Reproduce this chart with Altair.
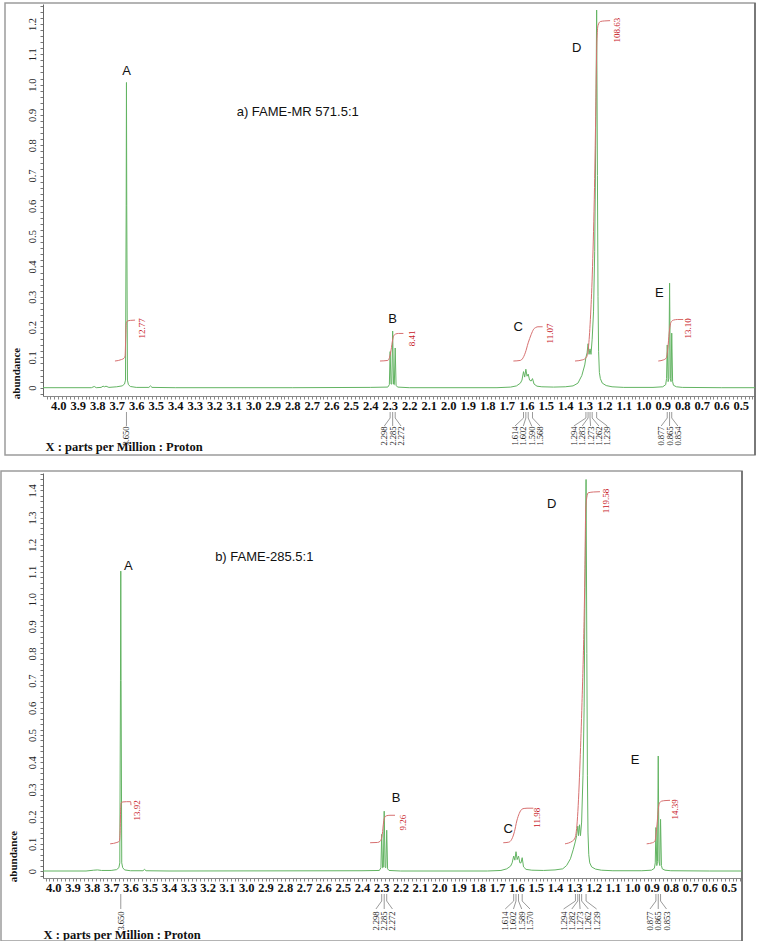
import altair as alt
import numpy as np
import pandas as pd

# ---------------- data ----------------
# spectrum a) (ppm, abundance)
a_spectrum = [
    (4.078, 0.0), (3.83, 0.0), (3.815, 0.004), (3.805, 0.0), (3.78, 0.001), (3.77, 0.005),
    (3.762, 0.003), (3.755, 0.005), (3.74, 0.001), (3.70, 0.003), (3.672, 0.006), (3.660, 0.012),
    (3.655, 0.025), (3.6515, 0.6), (3.650, 1.007), (3.6485, 0.6), (3.645, 0.025), (3.640, 0.01),
    (3.63, 0.004), (3.60, 0.001), (3.535, 0.001), (3.527, 0.006), (3.519, 0.001), (3.40, 0.0),
    (2.80, 0.0), (2.40, 0.001), (2.31, 0.002), (2.302, 0.01), (2.298, 0.119), (2.2935, 0.012),
    (2.2895, 0.012), (2.285, 0.187), (2.2805, 0.012), (2.2765, 0.01), (2.272, 0.131), (2.2675, 0.008),
    (2.26, 0.002), (2.20, 0.0), (1.75, 0.0), (1.68, 0.002), (1.65, 0.006), (1.63, 0.015),
    (1.622, 0.025), (1.614, 0.053), (1.608, 0.035), (1.602, 0.061), (1.596, 0.038), (1.590, 0.045),
    (1.583, 0.025), (1.575, 0.022), (1.568, 0.03), (1.560, 0.012), (1.545, 0.005), (1.52, 0.003),
    (1.46, 0.002), (1.40, 0.003), (1.36, 0.006), (1.335, 0.015), (1.315, 0.04), (1.30, 0.075),
    (1.294, 0.1), (1.288, 0.115), (1.283, 0.145), (1.278, 0.11), (1.273, 0.128), (1.268, 0.11),
    (1.262, 0.16), (1.255, 0.25), (1.249, 0.45), (1.244, 0.8), (1.239, 1.246), (1.235, 0.7),
    (1.232, 0.3), (1.229, 0.12), (1.225, 0.05), (1.22, 0.03), (1.21, 0.015), (1.19, 0.007),
    (1.16, 0.003), (1.10, 0.001), (0.95, 0.001), (0.90, 0.003), (0.885, 0.01), (0.8805, 0.03),
    (0.877, 0.141), (0.8725, 0.02), (0.869, 0.03), (0.865, 0.345), (0.861, 0.03), (0.8575, 0.02),
    (0.854, 0.18), (0.8495, 0.02), (0.845, 0.008), (0.83, 0.003), (0.80, 0.001), (0.60, 0.0),
    (0.427, 0.0),
]
# spectrum b)
b_spectrum = [
    (4.053, 0.0), (3.83, 0.0), (3.79, 0.003), (3.77, 0.004), (3.75, 0.002), (3.70, 0.002),
    (3.672, 0.005), (3.660, 0.012), (3.655, 0.03), (3.6515, 0.7), (3.650, 1.103), (3.6485, 0.7),
    (3.645, 0.03), (3.640, 0.012), (3.63, 0.004), (3.60, 0.001), (3.535, 0.001), (3.527, 0.006),
    (3.519, 0.001), (3.40, 0.0), (2.40, 0.001), (2.31, 0.002), (2.302, 0.012), (2.298, 0.135),
    (2.2935, 0.012), (2.2895, 0.014), (2.285, 0.22), (2.2805, 0.014), (2.2765, 0.012), (2.272, 0.15),
    (2.2675, 0.008), (2.26, 0.002), (2.20, 0.0), (1.75, 0.0), (1.68, 0.002), (1.65, 0.008),
    (1.63, 0.018), (1.622, 0.03), (1.614, 0.055), (1.608, 0.04), (1.602, 0.071), (1.596, 0.042),
    (1.589, 0.055), (1.582, 0.03), (1.576, 0.03), (1.570, 0.049), (1.563, 0.015), (1.55, 0.006),
    (1.52, 0.003), (1.46, 0.002), (1.40, 0.004), (1.36, 0.008), (1.34, 0.02), (1.32, 0.045),
    (1.305, 0.08), (1.294, 0.11), (1.288, 0.13), (1.282, 0.165), (1.278, 0.13), (1.273, 0.17),
    (1.268, 0.13), (1.262, 0.18), (1.255, 0.35), (1.249, 0.6), (1.245, 1.0), (1.239, 1.44),
    (1.235, 0.8), (1.232, 0.35), (1.229, 0.14), (1.225, 0.06), (1.22, 0.03), (1.21, 0.015),
    (1.19, 0.007), (1.16, 0.003), (1.10, 0.001), (0.95, 0.001), (0.90, 0.003), (0.885, 0.01),
    (0.8805, 0.03), (0.877, 0.16), (0.8725, 0.02), (0.869, 0.035), (0.865, 0.423), (0.861, 0.035),
    (0.857, 0.02), (0.853, 0.19), (0.8485, 0.02), (0.844, 0.008), (0.83, 0.003), (0.80, 0.001),
    (0.60, 0.0), (0.431, 0.0),
]

# picked peak positions (labels under the axis)
a_peaks = [[3.650], [2.298, 2.285, 2.272], [1.614, 1.602, 1.590, 1.568],
           [1.294, 1.283, 1.273, 1.262, 1.239], [0.877, 0.865, 0.854]]
b_peaks = [[3.650], [2.298, 2.285, 2.272], [1.614, 1.602, 1.589, 1.570],
           [1.294, 1.282, 1.273, 1.262, 1.239], [0.877, 0.865, 0.853]]

# integration curves (ppm list, abundance list)
a_int_A = ([3.709, 3.675, 3.663, 3.657, 3.654, 3.651, 3.645, 3.630, 3.606],
           [0.088, 0.093, 0.097, 0.105, 0.16, 0.212, 0.220, 0.222, 0.223])
a_int_B = ([2.350, 2.310, 2.301, 2.293, 2.285, 2.279, 2.270, 2.255, 2.230],
           [0.088, 0.090, 0.100, 0.125, 0.158, 0.172, 0.177, 0.179, 0.179])
a_int_C = ([1.666, 1.630, 1.620, 1.605, 1.590, 1.575, 1.562, 1.550, 1.540, 1.516],
           [0.088, 0.090, 0.095, 0.115, 0.148, 0.175, 0.193, 0.199, 0.201, 0.201])
a_int_D = ([1.350, 1.310, 1.290, 1.280, 1.270, 1.260, 1.250, 1.243, 1.238, 1.232, 1.220, 1.200, 1.170],
           [0.088, 0.092, 0.102, 0.140, 0.240, 0.400, 0.660, 0.930, 1.140, 1.195, 1.208, 1.210, 1.211])
a_int_E = ([0.923, 0.895, 0.882, 0.874, 0.867, 0.860, 0.853, 0.845, 0.825, 0.795],
           [0.088, 0.092, 0.098, 0.130, 0.180, 0.212, 0.220, 0.223, 0.225, 0.225])
b_int_A = ([3.705, 3.670, 3.657, 3.653, 3.651, 3.648, 3.640, 3.620, 3.599, 3.597],
           [0.100, 0.105, 0.110, 0.16, 0.22, 0.250, 0.254, 0.255, 0.255, 0.242])
b_int_B = ([2.358, 2.320, 2.305, 2.295, 2.288, 2.282, 2.274, 2.255, 2.229],
           [0.104, 0.105, 0.110, 0.135, 0.180, 0.198, 0.203, 0.205, 0.205])
b_int_C = ([1.668, 1.640, 1.624, 1.610, 1.598, 1.585, 1.572, 1.560, 1.545, 1.512],
           [0.104, 0.106, 0.117, 0.145, 0.184, 0.212, 0.227, 0.230, 0.231, 0.231])
b_int_D = ([1.348, 1.310, 1.296, 1.283, 1.270, 1.260, 1.250, 1.245, 1.241, 1.235, 1.228, 1.200, 1.167],
           [0.100, 0.110, 0.122, 0.200, 0.405, 0.620, 0.895, 1.10, 1.324, 1.375, 1.391, 1.394, 1.395])
b_int_E = ([0.925, 0.895, 0.882, 0.873, 0.861, 0.853, 0.847, 0.830, 0.804],
           [0.100, 0.104, 0.110, 0.159, 0.245, 0.255, 0.257, 0.259, 0.260])

# integral values
a_int_values = ["12.77", "8.41", "11.07", "108.63", "13.10"]
a_int_lab_ppm = [3.572, 2.187, 1.478, 1.136, 0.769]
a_int_lab_ab = [0.196, 0.163, 0.179, 1.180, 0.196]
b_int_values = ["13.92", "9.26", "11.98", "119.58", "14.39"]
b_int_lab_ppm = [3.564, 2.186, 1.495, 1.136, 0.778]
b_int_lab_ab = [0.223, 0.178, 0.196, 1.361, 0.227]

# peak letters
letters = ["A", "B", "C", "D", "E"]
a_let_ppm = [3.649, 2.285, 1.641, 1.341, 0.918]
a_let_ab = [1.046, 0.226, 0.201, 1.122, 0.313]
b_let_ppm = [3.611, 2.224, 1.642, 1.417, 0.985]
b_let_ab = [1.122, 0.267, 0.153, 1.349, 0.408]

# sample titles
a_title, a_title_ppm, a_title_ab = "a) FAME-MR 571.5:1", 3.085, 0.909
b_title, b_title_ppm, b_title_ab = "b) FAME-285.5:1", 3.161, 1.155

# axis tick labels
x_major = [4.0, 3.9, 3.8, 3.7, 3.6, 3.5, 3.4, 3.3, 3.2, 3.1, 3.0, 2.9, 2.8, 2.7, 2.6, 2.5, 2.4, 2.3,
           2.2, 2.1, 2.0, 1.9, 1.8, 1.7, 1.6, 1.5, 1.4, 1.3, 1.2, 1.1, 1.0, 0.9, 0.8, 0.7, 0.6, 0.5]
a_y_major = [0, 0.1, 0.2, 0.3, 0.4, 0.5, 0.6, 0.7, 0.8, 0.9, 1.0, 1.1, 1.2]
b_y_major = [0, 0.1, 0.2, 0.3, 0.4, 0.5, 0.6, 0.7, 0.8, 0.9, 1.0, 1.1, 1.2, 1.3, 1.4]

GREEN = "#63b463"
RED_LINE = "#d77070"
RED_TEXT = "#c8201f"
SERIF = "Liberation Serif"
SANS = "Liberation Sans"


def build_panel(spectrum, peaks, integrals, int_vals, int_lab_ppm, int_lab_ab,
                let_ppm, let_ab, title, title_ppm, title_ab,
                W, H, xdom, ydom, y_major, box, abund_xy, xtitle_xy, ann):
    x_ticks = sorted(set([round(v, 2) for v in np.arange(0.44, xdom[1], 0.02)] + x_major))
    y_ticks = sorted(set([round(v, 2) for v in np.arange(-0.02, ydom[1], 0.02)] + y_major))
    major_x = [round(v, 1) for v in x_major]
    major_y = [round(v, 1) for v in y_major]

    xaxis = alt.Axis(
        values=x_ticks,
        labelExpr="indexof(" + str(major_x) + ", round(datum.value*100)/100) >= 0 ? format(datum.value, '.1f') : ''",
        title="X : parts per Million : Proton", titleX=xtitle_xy[0], titleY=xtitle_xy[1],
        titleAlign="left", titleBaseline="middle", titleFont=SERIF, titleFontWeight="bold",
        titleFontSize=12.5, titleColor="#111",
        labelFont=SERIF, labelFontWeight="bold", labelFontSize=12.5, labelColor="#111",
        labelPadding=0, tickSize=3, tickColor="#888", domainColor="#888",
        labelFlush=False, labelOverlap=False, grid=False,
    )
    yaxis = alt.Axis(
        values=y_ticks,
        labelExpr="indexof(" + str(major_y) + ", round(datum.value*100)/100) >= 0 ? (datum.value == 0 ? '0' : format(datum.value, '.1f')) : ''",
        title="abundance", titleAngle=270, titleAlign="center", titleBaseline="bottom",
        titleX=abund_xy[0], titleY=abund_xy[1], titleFont=SERIF, titleFontWeight="bold",
        titleFontSize=11, titleColor="#111",
        labelAngle=270, labelAlign="center", labelBaseline="bottom", labelFont=SERIF,
        labelFontSize=10.5, labelColor="#222", labelPadding=3,
        tickSize=3, tickColor="#777", domainColor="#666", labelFlush=False,
        labelOverlap=False, grid=False,
    )
    xs = alt.Scale(domain=[xdom[0], xdom[1]], reverse=True, nice=False, zero=False)
    ys = alt.Scale(domain=ydom, nice=False, zero=False)

    def X(f):
        return alt.X(f + ":Q", scale=xs, axis=xaxis)

    def Y(f):
        return alt.Y(f + ":Q", scale=ys, axis=yaxis)

    spec_df = pd.DataFrame(spectrum, columns=["ppm", "ab"])
    spec = alt.Chart(spec_df).mark_line(color=GREEN, strokeWidth=1).encode(x=X("ppm"), y=Y("ab"))

    rows = []
    for name, (pp, aa) in integrals.items():
        for p, a in zip(pp, aa):
            rows.append({"seg": name, "ppm": p, "ab": a})
    int_df = pd.DataFrame(rows)
    integ = alt.Chart(int_df).mark_line(color=RED_LINE, strokeWidth=1, interpolate="monotone").encode(
        x=X("ppm"), y=Y("ab"), detail="seg:N")

    int_lab_df = pd.DataFrame({"ppm": int_lab_ppm, "ab": int_lab_ab, "t": int_vals})
    int_lab = alt.Chart(int_lab_df).mark_text(
        angle=270, align="center", baseline="middle", font=SERIF, fontSize=9,
        color=RED_TEXT).encode(x=X("ppm"), y=Y("ab"), text="t:N")

    let_df = pd.DataFrame({"ppm": let_ppm, "ab": let_ab, "t": letters})
    lets = alt.Chart(let_df).mark_text(
        align="center", baseline="middle", font=SANS, fontSize=13, color="#111").encode(
        x=X("ppm"), y=Y("ab"), text="t:N")

    tdf = pd.DataFrame({"ppm": [title_ppm], "ab": [title_ab], "t": [title]})
    ttl = alt.Chart(tdf).mark_text(
        align="left", baseline="middle", font=SANS, fontSize=13, color="#111").encode(
        x=X("ppm"), y=Y("ab"), text="t:N")

    # picked-peak annotations under the axis
    sp = 0.0428
    prow = []
    for grp in peaks:
        n = len(grp)
        c = sum(grp) / n
        for i, p in enumerate(grp):
            lab = p if n == 1 else c + ((n - 1) / 2 - i) * sp
            prow.append({"ppm": p, "lab": lab, "t": f"{p:.3f}"})
    pk_df = pd.DataFrame(prow)
    stem = alt.Chart(pk_df).mark_rule(color="#9a9a9a", strokeWidth=1).encode(
        x=X("ppm"), y=alt.value(H + ann[0]), y2=alt.value(H + ann[1]))
    slant = alt.Chart(pk_df).mark_rule(color="#9a9a9a", strokeWidth=1).encode(
        x=X("ppm"), x2="lab:Q", y=alt.value(H + ann[1]), y2=alt.value(H + ann[2]))
    plab = alt.Chart(pk_df).mark_text(
        angle=270, align="center", baseline="middle", font=SERIF, fontSize=8.5,
        color="#222").encode(x=alt.X("lab:Q", scale=xs, axis=xaxis), y=alt.value(H + ann[3]), text="t:N")

    frame = alt.Chart(pd.DataFrame({"k": [0]})).mark_rect(
        fill="white", fillOpacity=0, stroke="#9c9c9c", strokeWidth=1.5).encode(
        x=alt.value(box[0]), x2=alt.value(box[1]), y=alt.value(box[2]), y2=alt.value(box[3]))
    right_edge = alt.Chart(pd.DataFrame({"k": [0]})).mark_rule(
        color="#666", strokeWidth=1.5).encode(
        x=alt.value(box[1]), y=alt.value(box[2]), y2=alt.value(box[3]))

    return alt.layer(frame, right_edge, spec, integ, int_lab, lets, ttl, stem, slant, plab).properties(
        width=W, height=H)


panel_a = build_panel(
    a_spectrum, a_peaks,
    {"A": a_int_A, "B": a_int_B, "C": a_int_C, "D": a_int_D, "E": a_int_E},
    a_int_values, a_int_lab_ppm, a_int_lab_ab, a_let_ppm, a_let_ab,
    a_title, a_title_ppm, a_title_ab,
    W=712, H=392, xdom=[0.427, 4.078], ydom=[-0.0274, 1.2659], y_major=a_y_major,
    box=(-38, 712, -1, 451), abund_xy=(-22, 369), xtitle_xy=(2, 50), ann=(16, 22, 30, 40))

panel_b = build_panel(
    b_spectrum, b_peaks,
    {"A": b_int_A, "B": b_int_B, "C": b_int_C, "D": b_int_D, "E": b_int_E},
    b_int_values, b_int_lab_ppm, b_int_lab_ab, b_let_ppm, b_let_ab,
    b_title, b_title_ppm, b_title_ab,
    W=699, H=405, xdom=[0.431, 4.053], ydom=[-0.0257, 1.4638], y_major=b_y_major,
    box=(-42, 699, -2, 468), abund_xy=(-25, 383), xtitle_xy=(0, 56), ann=(16, 23, 31, 43))

chart = alt.vconcat(panel_a, panel_b, spacing=14).properties(
    padding={"left": 0, "top": 2, "right": 0, "bottom": 0},
    background="white",
).configure_view(stroke=None)

chart.save("out.html", embed_options={"renderer": "svg", "actions": False})
